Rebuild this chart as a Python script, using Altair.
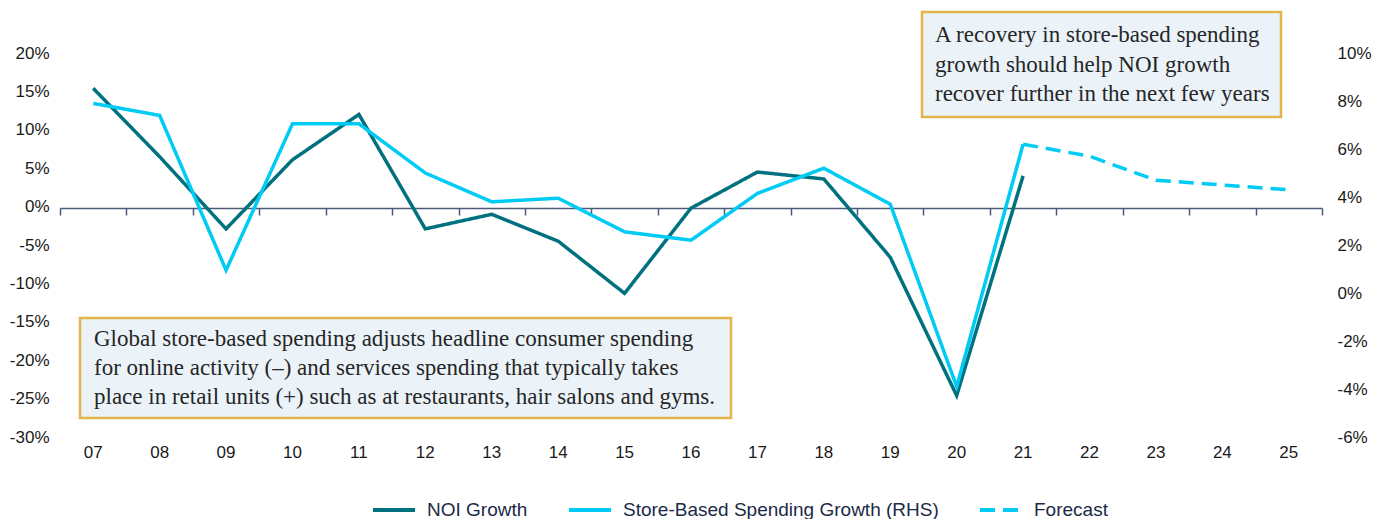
import altair as alt
import pandas as pd

YEARS = ["07", "08", "09", "10", "11", "12", "13", "14", "15", "16",
         "17", "18", "19", "20", "21", "22", "23", "24", "25"]
HIST_YEARS = ["07", "08", "09", "10", "11", "12", "13", "14", "15", "16",
              "17", "18", "19", "20", "21"]
NOI = [15.4, 6.5, -2.9, 6.1, 12.0, -2.9, -1.0, -4.5, -11.3, -0.2,
       4.5, 3.6, -6.6, -24.6, 4.0]
STORE = [7.9, 7.4, 0.95, 7.05, 7.05, 5.0, 3.8, 3.95, 2.55, 2.2,
         4.15, 5.2, 3.7, -3.9, 6.2]
FC_YEARS = ["21", "22", "23", "24", "25"]
FORECAST = [6.2, 5.7, 4.7, 4.5, 4.3]
LEFT_TICKS = [-30, -25, -20, -15, -10, -5, 0, 5, 10, 15, 20]
RIGHT_TICKS = [-6, -4, -2, 0, 2, 4, 6, 8, 10]
SERIES = ["NOI Growth", "Store-Based Spending Growth (RHS)", "Forecast"]

NOTE_TOP = ["A recovery in store-based spending",
            "growth should help NOI growth",
            "recover further in the next few years"]
NOTE_BOTTOM = ["Global store-based spending adjusts headline consumer spending",
               "for online activity (\u2013) and services spending that typically takes",
               "place in retail units (+) such as at restaurants, hair salons and gyms."]

TEAL = "#00717F"
CYAN = "#00CBF4"
AXIS_FONT = "Liberation Sans"
NOTE_FONT = "Liberation Serif"

noi_df = pd.DataFrame({"year": HIST_YEARS, "value": NOI, "series": SERIES[0]})
rhs_df = pd.concat([
    pd.DataFrame({"year": HIST_YEARS, "value": STORE, "series": SERIES[1]}),
    pd.DataFrame({"year": FC_YEARS, "value": FORECAST, "series": SERIES[2]}),
], ignore_index=True)

xscale = alt.Scale(type="band", domain=YEARS, paddingInner=0, paddingOuter=0)

color = alt.Color(
    "series:N",
    scale=alt.Scale(domain=SERIES, range=[TEAL, CYAN, CYAN]),
    legend=alt.Legend(
        title=None, orient="none", direction="horizontal",
        legendX=311, legendY=434, padding=0,
        symbolType="stroke", symbolSize=1764, symbolStrokeWidth=4,
        labelFont=AXIS_FONT, labelFontSize=19, labelColor="#1B2A47",
        labelOffset=10, columnPadding=33, labelLimit=0,
    ),
)
dash = alt.StrokeDash(
    "series:N",
    scale=alt.Scale(domain=SERIES, range=[[1, 0], [1, 0], [15, 8]]),
    legend=None,
)

noi_line = alt.Chart(noi_df).mark_line(strokeWidth=3.5).encode(
    x=alt.X("year:N", sort=YEARS, scale=xscale, bandPosition=0.5,
            axis=alt.Axis(title=None, domain=False, ticks=False, grid=False,
                          orient="bottom",
                          labelAngle=0, labelFont=AXIS_FONT, labelFontSize=17,
                          labelColor="#1a1a1a", labelPadding=7)),
    y=alt.Y("value:Q", scale=alt.Scale(domain=[-30, 20], nice=False, zero=False),
            axis=alt.Axis(title=None, values=LEFT_TICKS, labelExpr="datum.value + '%'",
                          domain=False, ticks=False, grid=False, orient="left",
                          labelFont=AXIS_FONT, labelFontSize=17, labelColor="#1a1a1a",
                          labelPadding=11)),
    color=color,
    strokeDash=dash,
)

rhs_line = alt.Chart(rhs_df).mark_line(strokeWidth=3.5).encode(
    x=alt.X("year:N", sort=YEARS, scale=xscale, bandPosition=0.5,
            axis=alt.Axis(title=None, labels=False, grid=False, domain=True,
                          orient="bottom",
                          domainColor="#4A5A78", domainWidth=1.5,
                          ticks=True, tickBand="extent", tickSize=7,
                          tickColor="#4A5A78", tickWidth=1.5, offset=-229)),
    y=alt.Y("value:Q", scale=alt.Scale(domain=[-6, 10], nice=False, zero=False),
            axis=alt.Axis(title=None, values=RIGHT_TICKS, labelExpr="datum.value + '%'",
                          domain=False, ticks=False, grid=False, orient="right",
                          labelFont=AXIS_FONT, labelFontSize=17, labelColor="#1a1a1a",
                          labelPadding=15, labelAlign="left")),
    color=color,
    strokeDash=dash,
    detail="series:N",
)

one = pd.DataFrame({"k": [0]})
box_style = dict(fill="#EBF3F9", stroke="#E2B44A", strokeWidth=2.5)

top_box = alt.Chart(one).mark_rect(**box_style).encode(
    x=alt.value(862), x2=alt.value(1221), y=alt.value(-41), y2=alt.value(64))
top_text = alt.Chart(one).mark_text(
    align="left", baseline="middle", font=NOTE_FONT, fontSize=23,
    lineHeight=29.5, color="#262626").encode(
    x=alt.value(875), y=alt.value(-18), text=alt.value(NOTE_TOP))

bot_box = alt.Chart(one).mark_rect(**box_style).encode(
    x=alt.value(20), x2=alt.value(671), y=alt.value(265), y2=alt.value(365))
bot_text = alt.Chart(one).mark_text(
    align="left", baseline="middle", font=NOTE_FONT, fontSize=23,
    lineHeight=29, color="#262626").encode(
    x=alt.value(34), y=alt.value(286), text=alt.value(NOTE_BOTTOM))

chart = alt.layer(noi_line, rhs_line, top_box, top_text, bot_box, bot_text).resolve_scale(
    y="independent"
).resolve_axis(
    x="independent", y="independent"
).properties(
    width=1262, height=384,
    autosize=alt.AutoSizeParams(type="none"),
    padding={"left": 52, "top": 45, "right": 55, "bottom": 82},
).configure_view(stroke=None)

chart.save("out.html", embed_options={"renderer": "svg", "actions": False})
